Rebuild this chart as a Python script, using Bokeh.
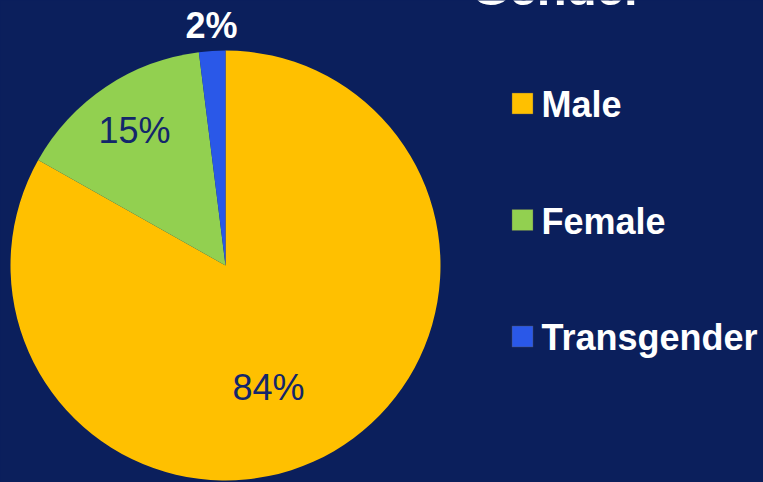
import math
from bokeh.plotting import figure
from bokeh.models import Range1d, ColumnDataSource
from bokeh.core.properties import value
from bokeh.embed import file_html
from bokeh.resources import INLINE

# ---- data ----
categories = ["Male", "Female", "Transgender"]
percents = [84, 15, 2]
labels = ["84%", "15%", "2%"]
colors = ["#FFC000", "#92D050", "#2A58E8"]
title_text = "Gender"

BG = "#0B1F5C"
W, H = 763, 482

p = figure(width=W, height=H, output_backend="svg", toolbar_location=None,
           x_range=Range1d(0, W), y_range=Range1d(0, H), min_border=0)
p.axis.visible = False
p.grid.visible = False
p.outline_line_color = None
p.background_fill_color = BG
p.border_fill_color = BG

# pie geometry (layout)
cx, cy, r = 225, 217, 215
total = sum(percents)
starts, ends = [], []
cum = 0.0
for v in percents:
    a0 = math.pi / 2 - cum / total * 2 * math.pi
    cum += v
    a1 = math.pi / 2 - cum / total * 2 * math.pi
    starts.append(a0)
    ends.append(a1)

src = ColumnDataSource(dict(cat=categories, start=starts, end=ends, color=colors))
p.wedge(x=cx, y=cy, radius=r, start_angle="start", end_angle="end",
        direction="clock", fill_color="color", line_color=None, source=src)

# slice labels (offsets relative to pie centre: layout)
label_offsets = [(43, -122), (-91, 135), (-14, 240)]
label_colors = ["#13266B", "#13266B", "#FFFFFF"]
label_styles = ["normal", "normal", "bold"]
for lab, (dx, dy), col, st in zip(labels, label_offsets, label_colors, label_styles):
    p.text(x=[cx + dx], y=[cy + dy], text=[lab], text_color=col,
           text_font=value("Liberation Sans"), text_font_size="36px",
           text_font_style=st, text_align="center", text_baseline="middle")

# legend
leg_x, leg_y0, leg_dy, sq = 522, 379, 116.5, 21
for i, (cat, col) in enumerate(zip(categories, colors)):
    yy = leg_y0 - i * leg_dy
    p.rect(x=[leg_x], y=[yy], width=sq, height=sq, fill_color=col,
           line_color="#555555", line_alpha=0.4, line_width=1)
    p.text(x=[leg_x + 19], y=[yy - 1], text=[cat], text_color="#FFFFFF",
           text_font=value("Liberation Sans"), text_font_size="36px",
           text_font_style="bold", text_align="left", text_baseline="middle")

# title (mostly cut off at the top, as in the reference)
p.text(x=[471], y=[495], text=[title_text], text_color="#FFFFFF",
       text_font=value("Liberation Sans"), text_font_size="49px",
       text_font_style="bold", text_align="left", text_baseline="alphabetic")

html = file_html(p, INLINE)
html = html.replace("</head>", "<style>html,body{margin:0;padding:0;background:%s;overflow:hidden;}</style></head>" % BG, 1)
open("out.html", "w").write(html)
